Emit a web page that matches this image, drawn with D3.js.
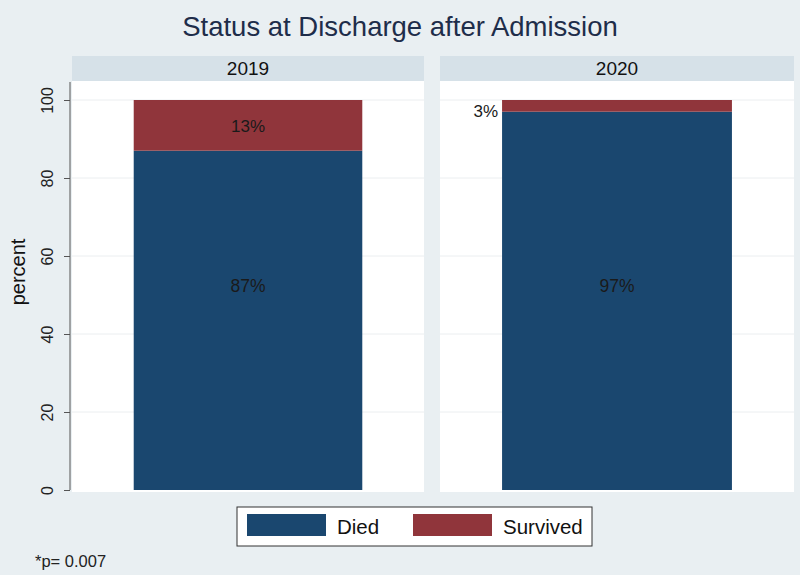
<!DOCTYPE html>
<html><head><meta charset="utf-8">
<script src="https://cdn.jsdelivr.net/npm/d3@7"></script>
<style>body{margin:0;background:#e9eff2;font-family:"Liberation Sans",Arial,sans-serif;}</style>
</head><body>
<script>
const years = ["2019", "2020"];
const died = [87, 97];
const survived = [13, 3];
const seriesNames = ["Died", "Survived"];
const colors = ["#1a476f", "#90353b"];
const yTicks = [0, 20, 40, 60, 80, 100];

const W = 800, H = 575;
const svg = d3.select("body").append("svg").attr("width", W).attr("height", H)
  .attr("font-family", "Liberation Sans, Arial, sans-serif");
svg.append("rect").attr("width", W).attr("height", H).attr("fill", "#e9eff2");

svg.append("text").attr("x", 400).attr("y", 36).attr("text-anchor", "middle")
  .attr("font-size", 27.5).attr("fill", "#1e2d4a").text("Status at Discharge after Admission");

const y = d3.scaleLinear().domain([0, 100]).range([490, 100]);
const panels = [{x0: 72, x1: 424}, {x0: 440, x1: 794}];
const stack = d3.stack().keys([0, 1])(years.map((yr, i) => ({0: died[i], 1: survived[i]})));

panels.forEach((p, i) => {
  const g = svg.append("g");
  g.append("rect").attr("x", p.x0).attr("y", 56).attr("width", p.x1 - p.x0).attr("height", 25).attr("fill", "#d6e1e8");
  g.append("text").attr("x", (p.x0 + p.x1) / 2).attr("y", 75).attr("text-anchor", "middle")
    .attr("font-size", 19).attr("fill", "#111").text(years[i]);
  g.append("rect").attr("x", p.x0).attr("y", 81).attr("width", p.x1 - p.x0).attr("height", 411).attr("fill", "#ffffff");
  yTicks.filter(t => t > 0).forEach(t => {
    g.append("line").attr("x1", p.x0).attr("x2", p.x1).attr("y1", y(t)).attr("y2", y(t))
      .attr("stroke", "#ebeef0").attr("stroke-width", 1);
  });
  const x = d3.scaleBand().domain([years[i]]).range([p.x0, p.x1]).paddingInner(0).paddingOuter(0.27);
  stack.forEach((s, k) => {
    const d = s[i];
    g.append("rect").attr("x", x(years[i])).attr("width", x.bandwidth())
      .attr("y", y(d[1])).attr("height", y(d[0]) - y(d[1])).attr("fill", colors[k]);
  });
  const cx = x(years[i]) + x.bandwidth() / 2;
  g.append("text").attr("x", cx).attr("y", y((died[i] + survived[i]) / 2) - 3).attr("text-anchor", "middle")
    .attr("font-size", 17.5).attr("fill", "#1a1a1a").text(died[i] + "%");
  if (survived[i] >= 10) {
    g.append("text").attr("x", cx).attr("y", y(died[i] + survived[i] / 2) + 6.5).attr("text-anchor", "middle")
      .attr("font-size", 17).attr("fill", "#1a1a1a").text(survived[i] + "%");
  } else {
    g.append("text").attr("x", x(years[i]) - 4).attr("y", y(died[i] + survived[i] / 2) + 11).attr("text-anchor", "end")
      .attr("font-size", 17).attr("fill", "#1a1a1a").text(survived[i] + "%");
  }
});

// y axis
const ax = svg.append("g").attr("transform", "translate(70,0)")
  .call(d3.axisLeft(y).tickValues(yTicks).tickSize(6).tickPadding(4).tickFormat(d3.format("d")));
ax.select(".domain").attr("stroke", "#555").attr("d", `M0,82V${y(0)}`);
ax.selectAll(".tick line").attr("stroke", "#555");
ax.selectAll(".tick text").attr("font-size", 16).attr("fill", "#222")
  .attr("font-family", "Liberation Sans, Arial, sans-serif")
  .attr("transform", "rotate(-90)").attr("x", 0).attr("y", -17).attr("dy", "0em").attr("text-anchor", "middle");

svg.append("text").attr("transform", "translate(25,272) rotate(-90)").attr("text-anchor", "middle")
  .attr("font-size", 20).attr("fill", "#111").text("percent");

// legend
const lg = svg.append("g");
lg.append("rect").attr("x", 237).attr("y", 507).attr("width", 355).attr("height", 39)
  .attr("fill", "#ffffff").attr("stroke", "#333").attr("stroke-width", 1);
const lx = [247, 413];
seriesNames.forEach((n, k) => {
  lg.append("rect").attr("x", lx[k]).attr("y", 514).attr("width", 79).attr("height", 22).attr("fill", colors[k]);
  lg.append("text").attr("x", lx[k] + 90).attr("y", 534).attr("font-size", 20.5).attr("fill", "#111").text(n);
});

svg.append("text").attr("x", 35).attr("y", 567).attr("font-size", 16.5).attr("fill", "#222").text("*p= 0.007");
</script>
</body></html>
